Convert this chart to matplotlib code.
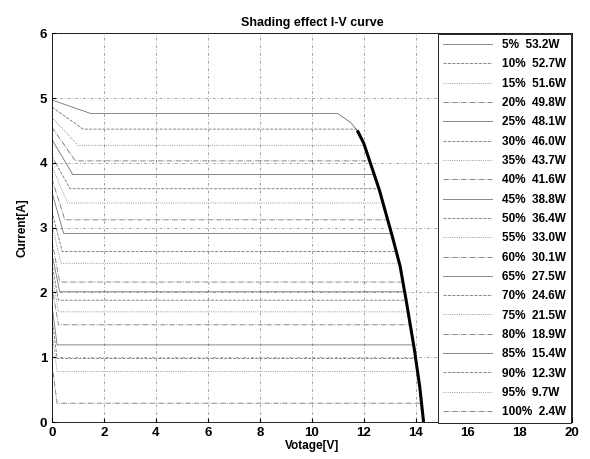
import numpy as np
from matplotlib import pyplot as plt

plt.rcParams['font.family'] = ['Liberation Sans', 'DejaVu Sans']

# shading levels and max power from the legend
shading = [5, 10, 15, 20, 25, 30, 35, 40, 45, 50, 55, 60, 65, 70, 75, 80, 85, 90, 95, 100]
power = [53.2, 52.7, 51.6, 49.8, 48.1, 46.0, 43.7, 41.6, 38.8, 36.4,
         33.0, 30.1, 27.5, 24.6, 21.5, 18.9, 15.4, 12.3, 9.7, 2.4]

# current at V=0, plateau current, voltage where the plateau starts
i_start = [4.97, 4.86, 4.70, 4.55, 4.36, 4.10, 3.95, 3.75, 3.55, 3.25,
           3.05, 2.80, 2.60, 2.45, 2.30, 2.10, 1.80, 1.60, 1.40, 0.90]
i_plateau = [4.76, 4.52, 4.27, 4.03, 3.82, 3.60, 3.38, 3.12, 2.91, 2.63,
             2.45, 2.16, 2.01, 1.88, 1.70, 1.50, 1.19, 0.98, 0.78, 0.29]
v_knee_start = [1.5, 1.2, 1.0, 0.9, 0.8, 0.7, 0.6, 0.5, 0.45, 0.4,
                0.35, 0.3, 0.3, 0.25, 0.25, 0.25, 0.2, 0.2, 0.2, 0.2]

# common falling branch of all curves
knee_v = [11.0, 11.5, 11.75, 12.0, 12.6, 13.1, 13.4, 13.65, 13.95, 14.15, 14.3]
knee_i = [4.76, 4.62, 4.50, 4.30, 3.58, 2.86, 2.40, 1.83, 1.11, 0.55, 0.0]

styles = ['-', '--', ':', '-.']

fig = plt.figure(figsize=(5.9, 4.59), dpi=100)
ax = fig.add_axes([0.088, 0.0806, 0.881, 0.847])

for k in range(len(shading)):
    ip = i_plateau[k]
    # voltage where the plateau meets the falling branch
    vj = np.interp(ip, knee_i[::-1], knee_v[::-1])
    vv = [0, v_knee_start[k], vj] + [v for v, i in zip(knee_v, knee_i) if i < ip]
    ii = [i_start[k], ip, ip] + [i for i in knee_i if i < ip]
    ax.plot(vv, ii, color='black', lw=0.6, ls=styles[k % 4], alpha=0.55,
            label='%d%%  %.1fW' % (shading[k], power[k]))

# overlapping curves make the falling branch look thick
ax.plot(knee_v[2:], knee_i[2:], color='black', lw=2.2, solid_capstyle='butt')

ax.set_xlim(0, 20)
ax.set_ylim(0, 6)
ax.set_xticks(range(0, 21, 2))
ax.set_yticks(range(0, 7))
ax.grid(True, color='black', ls=(0, (4, 3, 1, 3)), lw=0.5, alpha=0.5)
ax.tick_params(direction='in', length=3, labelsize=9.5)
for lab in ax.get_xticklabels() + ax.get_yticklabels():
    lab.set_fontweight('bold')
for s in ax.spines.values():
    s.set_linewidth(0.6)

ax.set_title('Shading effect I-V curve', fontsize=9, fontweight='bold', pad=5)
ax.set_xlabel('Votage[V]', fontsize=8.5, fontweight='bold', labelpad=1)
ax.set_ylabel('Current[A]', fontsize=8.5, fontweight='bold', labelpad=8)

leg = ax.legend(loc='upper right', handlelength=4.2, labelspacing=0.62,
                borderaxespad=0.1, fancybox=False, edgecolor='black', framealpha=1,
                prop={'weight': 'bold', 'size': 8.5})
leg.get_frame().set_linewidth(0.6)

fig.savefig('out.png', dpi=100)
